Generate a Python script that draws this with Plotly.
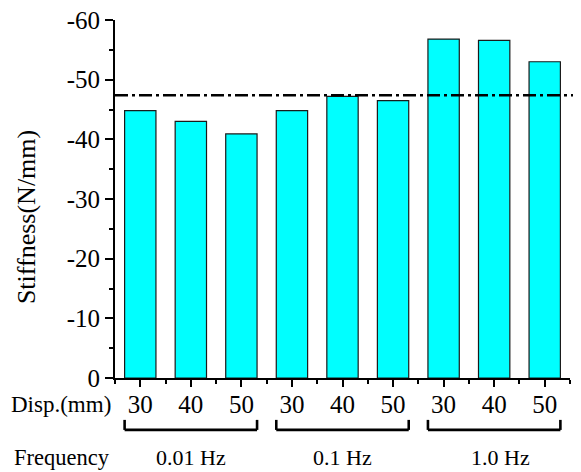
import plotly.graph_objects as go

# ---- data ----
disp_labels = ["30", "40", "50", "30", "40", "50", "30", "40", "50"]
stiffness = [-44.8, -43.0, -40.9, -44.8, -47.2, -46.5, -56.8, -56.6, -53.0]
freq_groups = ["0.01 Hz", "0.1 Hz", "1.0 Hz"]
group_size = 3
reference_value = -47.4
y_tickvals = [0, -10, -20, -30, -40, -50, -60]
y_ticktext = ["0", "-10", "-20", "-30", "-40", "-50", "-60"]

FONT = "Liberation Serif"
bar_width = 0.62
xpos = list(range(len(stiffness)))

fig = go.Figure()
fig.add_trace(go.Bar(
    x=xpos, y=stiffness, width=bar_width,
    marker=dict(color="#00FFFF", line=dict(color="#1a1a1a", width=1.2)),
    showlegend=False,
))

shapes = []
# dash-dot reference line
shapes.append(dict(type="line", xref="paper", yref="y", x0=0, x1=1.03,
                   y0=reference_value, y1=reference_value,
                   line=dict(color="black", width=2.6, dash="13px,4px,3px,4px")))

annotations = []
yb_top, yb_bot = -0.117, -0.145
for g, name in enumerate(freq_groups):
    a = g * group_size - bar_width / 2
    b = (g + 1) * group_size - 1 + bar_width / 2
    for (x0, y0, x1, y1) in [(a, yb_top, a, yb_bot), (a, yb_bot, b, yb_bot), (b, yb_bot, b, yb_top)]:
        shapes.append(dict(type="line", xref="x", yref="paper", x0=x0, x1=x1, y0=y0, y1=y1,
                           line=dict(color="black", width=2.6)))
    annotations.append(dict(x=(a + b) / 2 + (0.12 if g == 2 else 0), y=-0.223, xref="x", yref="paper",
                            text=name, showarrow=False, xanchor="center", yanchor="middle",
                            font=dict(family=FONT, size=22, color="black")))

annotations.append(dict(x=-0.004, y=-0.075, xref="paper", yref="paper", text="Disp.(mm)",
                        showarrow=False, xanchor="right", yanchor="middle",
                        font=dict(family=FONT, size=23, color="black")))
annotations.append(dict(x=-0.226, y=-0.223, xref="paper", yref="paper", text="Frequency",
                        showarrow=False, xanchor="left", yanchor="middle",
                        font=dict(family=FONT, size=22.5, color="black")))
annotations.append(dict(x=-0.193, y=0.45, xref="paper", yref="paper", text="Stiffness(N/mm)",
                        showarrow=False, xanchor="center", yanchor="middle", textangle=-90,
                        font=dict(family=FONT, size=26, color="black")))

fig.update_layout(
    width=573, height=464,
    margin=dict(l=107, r=11, t=12, b=94, autoexpand=False),
    paper_bgcolor="white", plot_bgcolor="white",
    font=dict(family=FONT, color="black"),
    shapes=shapes, annotations=annotations,
    xaxis=dict(
        automargin=False,
        range=[-0.5, len(stiffness) - 0.5],
        tickmode="array", tickvals=xpos, ticktext=disp_labels,
        ticks="outside", ticklen=7, tickwidth=1.5, tickcolor="black",
        tickfont=dict(family=FONT, size=25, color="black"),
        ticklabelstandoff=-4, ticklabeloverflow="allow",
        showline=True, linecolor="black", linewidth=2,
        showgrid=False, zeroline=False,
        minor=dict(tickmode="linear", tick0=-0.5, dtick=1, ticks="outside",
                   ticklen=4, tickwidth=1.5, tickcolor="black", showgrid=False),
    ),
    yaxis=dict(
        automargin=False,
        range=[0, -60],
        tickmode="array", tickvals=y_tickvals, ticktext=y_ticktext,
        ticks="outside", ticklen=8, tickwidth=1.5, tickcolor="black",
        tickfont=dict(family=FONT, size=25, color="black"),
        ticklabeloverflow="allow",
        showline=True, linecolor="black", linewidth=2,
        showgrid=False, zeroline=False,
        minor=dict(tickmode="linear", tick0=-5, dtick=10, ticks="outside",
                   ticklen=4, tickwidth=1.5, tickcolor="black", showgrid=False),
    ),
)

fig.write_html("out.html")
